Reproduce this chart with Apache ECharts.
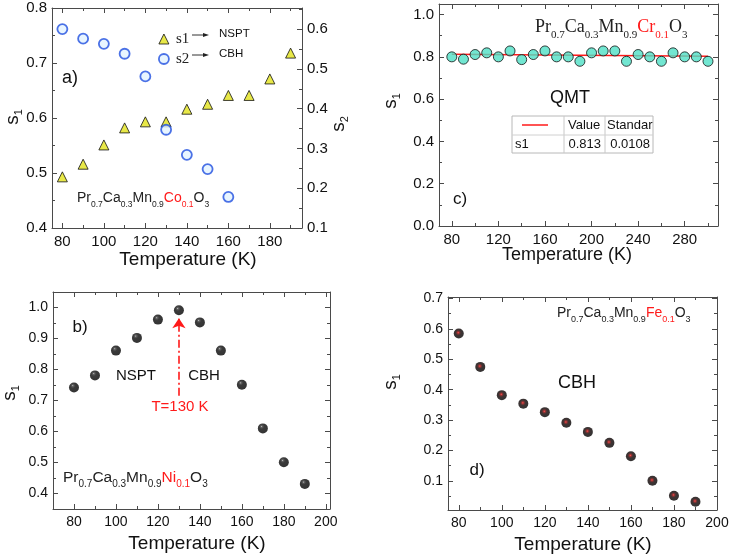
<!DOCTYPE html>
<html><head><meta charset="utf-8">
<script src="https://cdn.jsdelivr.net/npm/echarts@6/dist/echarts.min.js"></script>
<style>html,body{margin:0;padding:0;background:#fff}#c{width:729px;height:560px}</style>
</head><body><div id="c"></div>
<script>
// ---------- data ----------
const tempA = [80, 90, 100, 110, 120, 130, 140, 150, 160, 170, 180, 190];
const s1A = [0.493, 0.516, 0.551, 0.582, 0.593, 0.593, 0.616, 0.625, 0.641, 0.641, 0.671, 0.718];
const tempA2 = [80, 90, 100, 110, 120, 130, 140, 150, 160];
const s2A = [0.600, 0.576, 0.563, 0.538, 0.481, 0.347, 0.284, 0.248, 0.178];

const tempB = [80, 90, 100, 110, 120, 130, 140, 150, 160, 170, 180, 190];
const s1B = [0.742, 0.781, 0.861, 0.902, 0.961, 0.991, 0.952, 0.861, 0.751, 0.610, 0.501, 0.431];
const arrowB = [130, 0.715, 0.965];

const tempC = [80, 90, 100, 110, 120, 130, 140, 150, 160, 170, 180, 190, 200, 210, 220, 230, 240, 250, 260, 270, 280, 290, 300];
const s1C = [0.800, 0.789, 0.811, 0.819, 0.800, 0.828, 0.787, 0.811, 0.828, 0.800, 0.800, 0.779, 0.819, 0.828, 0.828, 0.779, 0.811, 0.800, 0.779, 0.819, 0.800, 0.800, 0.779];
const fitTempC = [80, 300];
const fitS1C = [0.812, 0.803];

const tempD = [80, 90, 100, 110, 120, 130, 140, 150, 160, 170, 180, 190];
const s1D = [0.585, 0.475, 0.382, 0.354, 0.326, 0.291, 0.261, 0.225, 0.181, 0.100, 0.051, 0.031];

// ---------- tick labels ----------
const xTicksA = [80, 100, 120, 140, 160, 180];
const xMinorA = [90, 110, 130, 150, 170, 190];
const yTicksA = [0.4, 0.5, 0.6, 0.7, 0.8];
const yMinorA = [0.45, 0.55, 0.65, 0.75];
const y2TicksA = [0.1, 0.2, 0.3, 0.4, 0.5, 0.6];
const y2MinorA = [0.15, 0.25, 0.35, 0.45, 0.55, 0.65];

const xTicksB = [80, 100, 120, 140, 160, 180, 200];
const xMinorB = [90, 110, 130, 150, 170, 190];
const yTicksB = [0.4, 0.5, 0.6, 0.7, 0.8, 0.9, 1.0];
const yMinorB = [0.45, 0.55, 0.65, 0.75, 0.85, 0.95];

const xTicksC = [80, 120, 160, 200, 240, 280];
const xMinorC = [100, 140, 180, 220, 260, 300];
const yTicksC = [0.0, 0.2, 0.4, 0.6, 0.8, 1.0];
const yMinorC = [0.1, 0.3, 0.5, 0.7, 0.9];

const xTicksD = [80, 100, 120, 140, 160, 180, 200];
const xMinorD = [90, 110, 130, 150, 170, 190];
const yTicksD = [0.1, 0.2, 0.3, 0.4, 0.5, 0.6, 0.7];
const yMinorD = [0.05, 0.15, 0.25, 0.35, 0.45, 0.55, 0.65];

// ---------- helpers ----------
const SANS = '"Liberation Sans", Arial, sans-serif';
const SERIF = '"Liberation Serif", "Times New Roman", serif';
const AX = '#4a4a4a';
const zip = (a, b) => a.map((v, i) => [v, b[i]]);
const mctx = document.createElement('canvas').getContext('2d');
function tw(t, size, fam) { mctx.font = size + 'px ' + fam; return mctx.measureText(t).width; }

const xAxes = [], yAxes = [];
function xSet(grid, min, max, major, minor, fs) {
  const base = { type: 'value', gridIndex: grid, min: min, max: max, splitLine: { show: false } };
  const idx = xAxes.length;
  xAxes.push(Object.assign({}, base, { position: 'bottom',
    axisLine: { show: true, onZero: false, lineStyle: { color: AX, width: 1 } },
    axisTick: { show: true, inside: true, length: 5, customValues: major, lineStyle: { color: AX, width: 1 } },
    axisLabel: { show: true, customValues: major, fontSize: fs, fontFamily: SANS, color: '#111', margin: 6,
      formatter: v => String(Math.round(v)) } }));
  xAxes.push(Object.assign({}, base, { position: 'bottom',
    axisLine: { show: false, onZero: false },
    axisTick: { show: true, inside: true, length: 3, customValues: minor, lineStyle: { color: AX, width: 1 } },
    axisLabel: { show: false } }));
  xAxes.push(Object.assign({}, base, { position: 'top',
    axisLine: { show: true, onZero: false, lineStyle: { color: AX, width: 1 } },
    axisTick: { show: true, inside: true, length: 5, customValues: major, lineStyle: { color: AX, width: 1 } },
    axisLabel: { show: false } }));
  xAxes.push(Object.assign({}, base, { position: 'top',
    axisLine: { show: false, onZero: false },
    axisTick: { show: true, inside: true, length: 3, customValues: minor, lineStyle: { color: AX, width: 1 } },
    axisLabel: { show: false } }));
  return idx;
}
function ySet(grid, min, max, major, minor, fs, pos, showLabel) {
  const base = { type: 'value', gridIndex: grid, min: min, max: max, splitLine: { show: false }, position: pos };
  const idx = yAxes.length;
  yAxes.push(Object.assign({}, base, {
    axisLine: { show: true, onZero: false, lineStyle: { color: AX, width: 1 } },
    axisTick: { show: true, inside: true, length: 5, customValues: major, lineStyle: { color: AX, width: 1 } },
    axisLabel: { show: showLabel, customValues: major, fontSize: fs, fontFamily: SANS, color: '#111', margin: 5,
      formatter: v => v.toFixed(1) } }));
  yAxes.push(Object.assign({}, base, {
    axisLine: { show: false, onZero: false },
    axisTick: { show: true, inside: true, length: 3, customValues: minor, lineStyle: { color: AX, width: 1 } },
    axisLabel: { show: false } }));
  return idx;
}

// panel a
const xa = xSet(0, 75, 195.5, xTicksA, xMinorA, 15);
const ya = ySet(0, 0.4, 0.8, yTicksA, yMinorA, 15, 'left', true);
const ya2 = ySet(0, 0.1, 0.653, y2TicksA, y2MinorA, 15, 'right', true);
// panel b
const xb = xSet(1, 70, 202, xTicksB, xMinorB, 14);
const yb = ySet(1, 0.35, 1.05, yTicksB, yMinorB, 14, 'left', true);
ySet(1, 0.35, 1.05, yTicksB, yMinorB, 14, 'right', false);
// panel c
const xc = xSet(2, 69, 308.6, xTicksC, xMinorC, 15);
const yc = ySet(2, 0, 1.05, yTicksC, yMinorC, 15, 'left', true);
ySet(2, 0, 1.05, yTicksC, yMinorC, 15, 'right', false);
// panel d
const xd = xSet(3, 75, 200, xTicksD, xMinorD, 14);
const yd = ySet(3, 0.004, 0.705, yTicksD, yMinorD, 14, 'left', true);
ySet(3, 0.004, 0.705, yTicksD, yMinorD, 14, 'right', false);

const blackBall = { type: 'radial', x: 0.38, y: 0.32, r: 0.7,
  colorStops: [{ offset: 0, color: '#bdbdbd' }, { offset: 0.12, color: '#3a3a3a' }, { offset: 0.35, color: '#0a0a0a' }, { offset: 1, color: '#000' }] };
const redBall = { type: 'radial', x: 0.45, y: 0.42, r: 0.62,
  colorStops: [{ offset: 0, color: '#ff2020' }, { offset: 0.18, color: '#7a0000' }, { offset: 0.42, color: '#0e0000' }, { offset: 1, color: '#000' }] };

// ---------- graphic text ----------
const G = [];
function txt(x, y, t, size, fam, color, align, extra) {
  G.push(Object.assign({ type: 'text', x: x, y: y, z: 50, silent: true,
    style: { text: t, fontSize: size, fontFamily: fam, fill: color || '#111',
      align: align || 'center', textAlign: align || 'center', verticalAlign: 'middle', textVerticalAlign: 'middle' } }, extra || {}));
}
function formula(x, y, parts, fam, big, small, dy) {
  let cx = x;
  parts.forEach(p => {
    const col = p[2] ? '#ff1a1a' : '#222';
    txt(cx, y, p[0], big, fam, col, 'left');
    cx += tw(p[0], big, fam);
    txt(cx, y + dy, p[1], small, fam, col, 'left');
    cx += tw(p[1], small, fam);
  });
}
function sTitle(x, y, sub, big, small) {
  const w = tw('s', big, SANS) + tw(sub, small, SANS);
  const x0 = -w / 2;
  G.push({ type: 'group', x: x, y: y, rotation: Math.PI / 2, z: 50, silent: true, children: [
    { type: 'text', x: x0, y: 0, style: { text: 's', fontSize: big, fontFamily: SANS, fill: '#111', align: 'left', textAlign: 'left', verticalAlign: 'middle', textVerticalAlign: 'middle' } },
    { type: 'text', x: x0 + tw('s', big, SANS), y: big * 0.3, style: { text: sub, fontSize: small, fontFamily: SANS, fill: '#111', align: 'left', textAlign: 'left', verticalAlign: 'middle', textVerticalAlign: 'middle' } }
  ] });
}

// axis titles
txt(188, 260, 'Temperature (K)', 19, SANS);
txt(197, 544, 'Temperature (K)', 19, SANS);
txt(567, 255, 'Temperature (K)', 18, SANS);
txt(583, 545, 'Temperature (K)', 19, SANS);
sTitle(13, 117, '1', 19, 11);
sTitle(339, 124, '2', 19, 11);
sTitle(10, 393, '1', 19, 11);
sTitle(391, 101, '1', 19, 11);
sTitle(391, 382, '1', 19, 11);

// panel labels
txt(70, 78, 'a)', 18, SANS);
txt(80, 327, 'b)', 17, SANS);
txt(460, 199, 'c)', 17, SANS);
txt(477, 470, 'd)', 17, SANS);

// formulas
formula(77, 198, [['Pr', '0.7'], ['Ca', '0.3'], ['Mn', '0.9'], ['Co', '0.1', true], ['O', '3']], SANS, 14, 8.5, 7);
formula(63, 478, [['Pr', '0.7'], ['Ca', '0.3'], ['Mn', '0.9'], ['Ni', '0.1', true], ['O', '3']], SANS, 15.5, 10, 6.5);
formula(535, 27.5, [['Pr', '0.7'], ['Ca', '0.3'], ['Mn', '0.9'], ['Cr', '0.1', true], ['O', '3']], SERIF, 18, 11, 8);
formula(557, 313, [['Pr', '0.7'], ['Ca', '0.3'], ['Mn', '0.9'], ['Fe', '0.1', true], ['O', '3']], SANS, 14, 9, 6.5);

// annotations
txt(136, 376, 'NSPT', 15, SANS);
txt(204, 376, 'CBH', 15, SANS);
txt(180, 407, 'T=130 K', 15, SANS, '#ff1a1a');
txt(570, 98, 'QMT', 18, SANS);
txt(577, 383, 'CBH', 18, SANS);

// legend arrows + labels (panel a)
[[34, 'NSPT'], [54, 'CBH']].forEach(r => {
  G.push({ type: 'line', z: 50, silent: true, shape: { x1: 192, y1: r[0] + 1, x2: 206, y2: r[0] + 1 }, style: { stroke: '#333', lineWidth: 1 } });
  G.push({ type: 'polygon', z: 50, silent: true, shape: { points: [[203, r[0] - 1], [209, r[0] + 1], [203, r[0] + 3]] }, style: { fill: '#222' } });
  txt(219, r[0], r[1], 11.5, SANS, '#111', 'left');
});

// table (panel c)
G.push({ type: 'rect', z: 40, silent: true, shape: { x: 512, y: 116, width: 141, height: 37 }, style: { fill: '#fff', stroke: '#b8b8b8', lineWidth: 1 } });
G.push({ type: 'line', z: 41, silent: true, shape: { x1: 564, y1: 116, x2: 564, y2: 153 }, style: { stroke: '#c8c8c8', lineWidth: 1 } });
G.push({ type: 'line', z: 41, silent: true, shape: { x1: 605, y1: 116, x2: 605, y2: 153 }, style: { stroke: '#c8c8c8', lineWidth: 1 } });
G.push({ type: 'line', z: 41, silent: true, shape: { x1: 512, y1: 135, x2: 653, y2: 135 }, style: { stroke: '#d0d0d0', lineWidth: 1 } });
G.push({ type: 'line', z: 41, silent: true, shape: { x1: 522, y1: 125, x2: 548, y2: 125 }, style: { stroke: '#ff1a1a', lineWidth: 1.5 } });
txt(568, 125, 'Value', 13, SANS, '#111', 'left');
txt(607, 125, 'Standar', 13, SANS, '#111', 'left');
txt(515, 144, 's1', 13, SANS, '#111', 'left');
txt(601, 144, '0.813', 13, SANS, '#111', 'right');
txt(650, 144, '0.0108', 13, SANS, '#111', 'right');

const triStyle = { color: '#e2e21a', borderColor: '#111', borderWidth: 1 };
const circStyle = { color: '#e2f2ff', borderColor: '#1f4fe0', borderWidth: 1.8 };

const option = {
  animation: false,
  backgroundColor: '#fff',
  grid: [
    { left: 52, top: 8, width: 250, height: 220 },
    { left: 53, top: 292, width: 277, height: 217 },
    { left: 439, top: 4, width: 279, height: 222 },
    { left: 448, top: 297, width: 269, height: 213 }
  ].map(g => Object.assign(g, { containLabel: false, outerBoundsMode: 'none' })),
  xAxis: xAxes,
  yAxis: yAxes,
  legend: {
    data: [{ name: 's1', icon: 'triangle', itemStyle: triStyle }, { name: 's2', icon: 'circle', itemStyle: circStyle }],
    orient: 'vertical', left: 153, top: 24, itemWidth: 10, itemHeight: 10, itemGap: 0,
    selectedMode: false,
    textStyle: { fontFamily: SERIF, fontSize: 15, color: '#222', lineHeight: 20, padding: [0, 0, 0, 2] }
  },
  series: [
    { name: 's1', type: 'scatter', xAxisIndex: xa, yAxisIndex: ya, data: zip(tempA, s1A),
      symbol: 'triangle', symbolSize: 10, itemStyle: triStyle },
    { name: 's2', type: 'scatter', xAxisIndex: xa, yAxisIndex: ya2, data: zip(tempA2, s2A),
      symbol: 'circle', symbolSize: 10, itemStyle: circStyle },
    { name: 'b', type: 'scatter', xAxisIndex: xb, yAxisIndex: yb, data: zip(tempB, s1B),
      symbolSize: 10, itemStyle: { color: blackBall },
      markLine: { silent: true, symbol: ['none', 'arrow'], symbolSize: 10, animation: false,
        label: { show: false },
        lineStyle: { color: '#ff1a1a', width: 1.6, type: [8, 3, 2, 3] },
        data: [[{ coord: [arrowB[0], arrowB[1]] }, { coord: [arrowB[0], arrowB[2]] }]] } },
    { name: 'fit', type: 'line', xAxisIndex: xc, yAxisIndex: yc, data: zip(fitTempC, fitS1C),
      symbol: 'none', z: 1, lineStyle: { color: '#ff1a1a', width: 1.5 } },
    { name: 'c', type: 'scatter', xAxisIndex: xc, yAxisIndex: yc, data: zip(tempC, s1C),
      symbolSize: 10, z: 3, itemStyle: { color: '#4fe0c6', borderColor: '#111', borderWidth: 1 } },
    { name: 'd', type: 'scatter', xAxisIndex: xd, yAxisIndex: yd, data: zip(tempD, s1D),
      symbolSize: 10, itemStyle: { color: redBall } }
  ],
  graphic: { elements: G }
};
const chart = echarts.init(document.getElementById('c'));
chart.setOption(option);
</script>
</body></html>
